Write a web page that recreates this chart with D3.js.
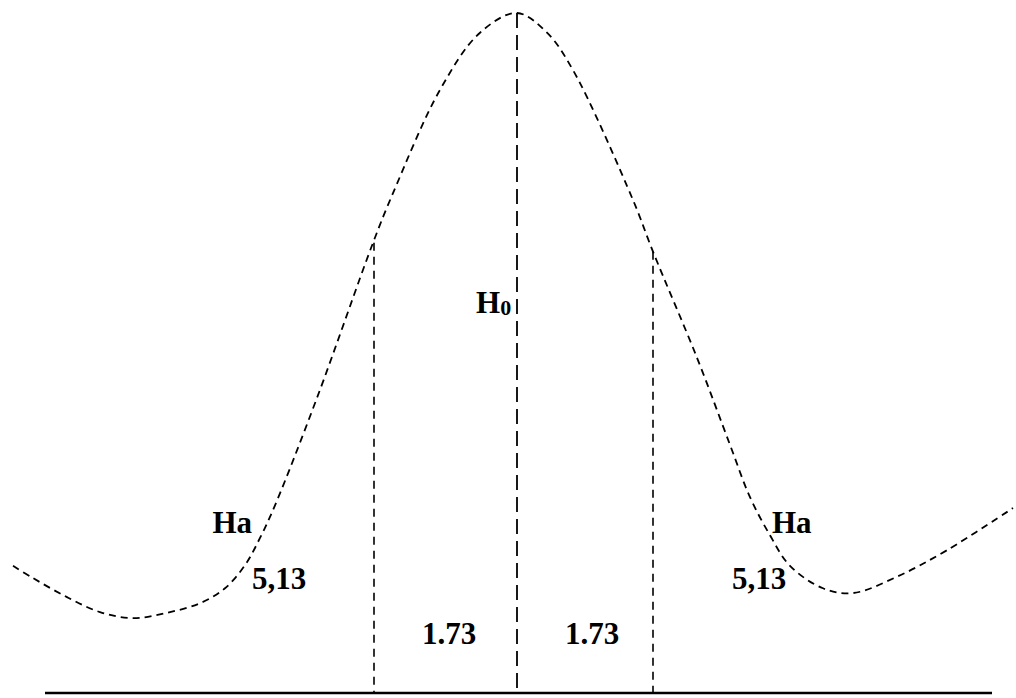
<!DOCTYPE html>
<html lang="en">
<head>
    <meta charset="UTF-8">
    <title>H0 / Ha decision regions</title>
    <script src="https://d3js.org/d3.v7.min.js"></script>
    <style>
        body {
            margin: 0;
            background: #fff;
        }
        svg {
            display: block;
        }
        .lbl {
            font-family: "Liberation Serif", "Times New Roman", serif;
            font-weight: bold;
            font-size: 31px;
            fill: #000;
        }
    </style>
</head>
<body>
    <svg></svg>

    <script>
        // curve (x in units from the centre, y relative to the peak)
        const curveX = [-5.04, -4.84, -4.50, -4.17, -3.84, -3.50, -3.17, -2.92, -2.72, -2.57,
                        -2.42, -2.00, -1.44, -1.24, -0.77, -0.37, 0, 0.30, 0.56, 1.16,
                        1.36, 1.80, 2.13, 2.33, 2.53, 2.73, 3.06, 3.36, 3.80, 4.30, 4.96];
        const curveY = [0.187, 0.169, 0.141, 0.119, 0.110, 0.118, 0.132, 0.154, 0.188, 0.228,
                        0.276, 0.434, 0.662, 0.735, 0.887, 0.971, 1.0, 0.971, 0.916, 0.725,
                        0.649, 0.493, 0.365, 0.288, 0.232, 0.187, 0.154, 0.147, 0.171, 0.210, 0.272];

        // vertical cut lines and where they meet the curve
        const cutX = [-1.43, 0, 1.36];
        const cutTop = [0.662, 1.0, 0.649];

        const baseFrom = -4.72, baseTo = 4.75;

        const haLabel = "Ha";
        const critLabel = "5,13";
        const midLabel = "1.73";

        const width = 1016, height = 698;

        const svg = d3.select("svg")
            .attr("width", width)
            .attr("height", height);

        const x = d3.scaleLinear().domain([-5, 5]).range([17, 1017]);
        const y = d3.scaleLinear().domain([0, 1]).range([693, 13]);

        const pts = curveX.map((v, i) => [v, curveY[i]]);

        // dashed curve
        svg.append("path")
           .datum(pts)
           .attr("fill", "none")
           .attr("stroke", "#000")
           .attr("stroke-width", 1.8)
           .attr("stroke-dasharray", "7,5")
           .attr("d", d3.line()
                .x(d => x(d[0]))
                .y(d => y(d[1]))
                .curve(d3.curveCatmullRom.alpha(0.5)));

        // baseline
        svg.append("line")
           .attr("x1", x(baseFrom))
           .attr("x2", x(baseTo))
           .attr("y1", y(0))
           .attr("y2", y(0))
           .attr("stroke", "#000")
           .attr("stroke-width", 2.5);

        // vertical dashed lines
        svg.selectAll(".cut")
           .data(cutX)
           .enter()
           .append("line")
           .attr("class", "cut")
           .attr("x1", d => x(d))
           .attr("x2", d => x(d))
           .attr("y1", (d, i) => y(cutTop[i]))
           .attr("y2", y(0))
           .attr("stroke", "#000")
           .attr("stroke-width", (d, i) => i === 1 ? 1.8 : 1.6)
           .attr("stroke-dasharray", (d, i) => i === 1 ? "15,7" : "8,6");

        // labels
        const h0 = svg.append("text")
           .attr("class", "lbl")
           .attr("x", x(-0.41))
           .attr("y", y(0.559));
        h0.append("tspan").text("H");
        h0.append("tspan").attr("font-size", "22px").attr("dy", 2).text("0");

        svg.append("text").attr("class", "lbl")
           .attr("x", x(-2.65)).attr("y", y(0.235))
           .attr("text-anchor", "end").text(haLabel);
        svg.append("text").attr("class", "lbl")
           .attr("x", x(2.55)).attr("y", y(0.235)).text(haLabel);

        svg.append("text").attr("class", "lbl")
           .attr("x", x(-2.65)).attr("y", y(0.153)).text(critLabel);
        svg.append("text").attr("class", "lbl")
           .attr("x", x(2.15)).attr("y", y(0.153)).text(critLabel);

        svg.append("text").attr("class", "lbl")
           .attr("x", x(-0.95)).attr("y", y(0.072)).text(midLabel);
        svg.append("text").attr("class", "lbl")
           .attr("x", x(0.48)).attr("y", y(0.072)).text(midLabel);
    </script>
</body>
</html>
